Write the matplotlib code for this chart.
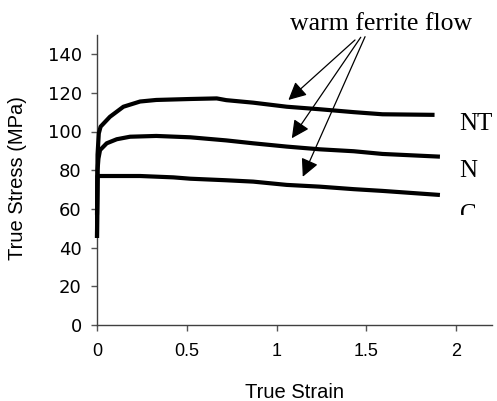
import numpy as np
import matplotlib
matplotlib.use("Agg")
import matplotlib.pyplot as plt
from matplotlib.transforms import Bbox, TransformedBbox

# ---------------------------------------------------------------- data ---- #
# true strain / true stress (MPa)
NT_STRAIN = [0.0, 0.003, 0.01, 0.02, 0.072, 0.147, 0.24, 0.33, 0.52, 0.667,
             0.72, 0.87, 1.057, 1.24, 1.43, 1.59, 1.88]
NT_STRESS = [45, 88, 99, 102.5, 107.6, 112.8, 115.5, 116.3, 116.8, 117.1,
             116.2, 114.9, 112.8, 111.5, 110.0, 108.9, 108.6]

N_STRAIN = [0.0, 0.003, 0.008, 0.017, 0.054, 0.11, 0.184, 0.33, 0.52, 0.72,
            0.87, 1.057, 1.24, 1.43, 1.59, 1.91]
N_STRESS = [45, 80, 86, 90.4, 93.9, 96.0, 97.3, 97.7, 97.0, 95.4,
            93.9, 92.2, 90.8, 89.8, 88.4, 87.0]

C_STRAIN = [0.0, 0.003, 0.017, 0.24, 0.425, 0.52, 0.72, 0.87, 1.057, 1.24,
            1.43, 1.59, 1.91]
C_STRESS = [57, 77, 77, 77, 76.3, 75.6, 74.8, 74.1, 72.4, 71.5,
            70.2, 69.3, 67.2]

LABELS = ["NT", "N", "C"]
LABEL_STRESS = [100.8, 76.5, 53.7]

ANNOTATION = "warm ferrite flow"
ARROW_TIPS = [(1.066, 116.3), (1.085, 96.5), (1.146, 76.6)]
ARROW_TAILS = [(1.437, 147.3), (1.469, 148.7), (1.493, 149.0)]

X_TICKS = [0, 0.5, 1, 1.5, 2]
X_TICK_LABELS = ["0", "0.5", "1", "1.5", "2"]
Y_TICKS = [0, 20, 40, 60, 80, 100, 120, 140]

# --------------------------------------------------------------- figure ---- #
W, H = 497, 401
fig = plt.figure(figsize=(W / 100, H / 100), dpi=100)
ax = fig.add_axes([97 / W, 76 / H, 395 / W, 290.25 / H])

plt.rcParams["font.family"] = ["Liberation Sans", "DejaVu Sans"]
SERIF = ["Liberation Serif", "DejaVu Serif"]

for xs, ys in [(NT_STRAIN, NT_STRESS), (N_STRAIN, N_STRESS), (C_STRAIN, C_STRESS)]:
    ax.plot(xs, ys, color="black", lw=3.0, solid_capstyle="butt",
            solid_joinstyle="round", clip_on=False, zorder=3)

ax.set_xlim(0, 2.2)
ax.set_ylim(0, 150)
ax.set_xticks(X_TICKS)
ax.set_xticklabels(X_TICK_LABELS, family="Liberation Sans")
ax.set_yticks(Y_TICKS)
ax.tick_params(axis="both", labelsize=13, color="#555555", width=1,
               length=4, direction="out")
ax.tick_params(axis="x", pad=9)
ax.tick_params(axis="y", pad=7)

for side in ["top", "right"]:
    ax.spines[side].set_visible(False)
for side in ["left", "bottom"]:
    ax.spines[side].set_color("#404040")
    ax.spines[side].set_linewidth(1.0)

ax.set_xlabel("True Strain", fontsize=14.5, family="Liberation Sans")
ax.xaxis.set_label_coords(0.5, -0.2)
ax.set_ylabel("True Stress (MPa)", fontsize=14.5, family="Liberation Sans")
ax.yaxis.set_label_coords(-0.177, 0.505)

# curve labels, the bottom one is cut off as in the original
clip = TransformedBbox(Bbox([[0, 186 / H], [1, 1]]), fig.transFigure)
for lab, y in zip(LABELS, LABEL_STRESS):
    t = ax.text(2.02, y, lab, fontsize=18, family=SERIF, ha="left",
                va="baseline", clip_on=False)
    if lab == "C":
        t.set_clip_on(True)
        t.set_clip_box(clip)

ax.text(1.582, 152.5, ANNOTATION, fontsize=18.5, family=SERIF,
        ha="center", va="baseline", clip_on=False)
for tip, tail in zip(ARROW_TIPS, ARROW_TAILS):
    ax.annotate("", xy=tip, xytext=tail, annotation_clip=False,
                arrowprops=dict(arrowstyle="-|>,head_length=0.6,head_width=0.3",
                                mutation_scale=18, color="black", lw=0.9,
                                shrinkA=0, shrinkB=0))

fig.savefig("out.png", dpi=100)
